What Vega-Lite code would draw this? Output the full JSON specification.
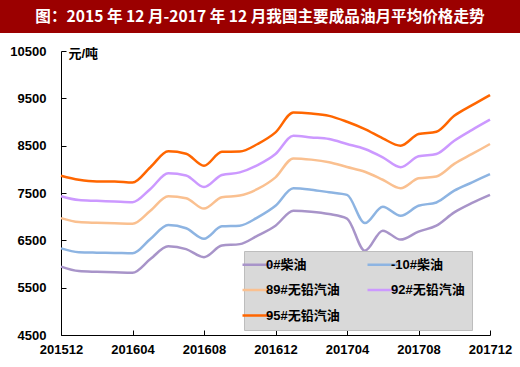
{
  "$schema": "https://vega.github.io/schema/vega-lite/v6.json",
  "padding": 0,
  "background": "white",
  "spacing": 12,
  "bounds": "full",
  "config": {"view": {"stroke": null}, "font": "Liberation Sans"},
  "vconcat": [
    {
      "width": 520,
      "height": 33,
      "view": {"fill": "#9b0000", "stroke": null},
      "data": {"values": [{"t": "图：2015 年 12 月-2017 年 12 月我国主要成品油月平均价格走势"}]},
      "mark": {"type": "text", "font": "Noto Sans CJK SC", "fontWeight": "bold", "fontSize": 15.6, "color": "white"},
      "encoding": {"text": {"field": "t"}}
    },
    {
      "spacing": 0,
      "bounds": "full",
      "hconcat": [
        {
          "width": 1,
          "height": 284,
          "data": {"values": []},
          "mark": "point"
        },
        {
          "width": 429,
          "height": 284,
          "data": {"values": [
            {"month":"201512","series":"0#柴油","price":5945},
            {"month":"201601","series":"0#柴油","price":5850},
            {"month":"201602","series":"0#柴油","price":5835},
            {"month":"201603","series":"0#柴油","price":5825},
            {"month":"201604","series":"0#柴油","price":5815},
            {"month":"201605","series":"0#柴油","price":6105},
            {"month":"201606","series":"0#柴油","price":6375},
            {"month":"201607","series":"0#柴油","price":6315},
            {"month":"201608","series":"0#柴油","price":6145},
            {"month":"201609","series":"0#柴油","price":6390},
            {"month":"201610","series":"0#柴油","price":6420},
            {"month":"201611","series":"0#柴油","price":6600},
            {"month":"201612","series":"0#柴油","price":6810},
            {"month":"201701","series":"0#柴油","price":7125},
            {"month":"201702","series":"0#柴油","price":7105},
            {"month":"201703","series":"0#柴油","price":7055},
            {"month":"201704","series":"0#柴油","price":6960},
            {"month":"201705","series":"0#柴油","price":6280},
            {"month":"201706","series":"0#柴油","price":6705},
            {"month":"201707","series":"0#柴油","price":6515},
            {"month":"201708","series":"0#柴油","price":6685},
            {"month":"201709","series":"0#柴油","price":6810},
            {"month":"201710","series":"0#柴油","price":7090},
            {"month":"201711","series":"0#柴油","price":7290},
            {"month":"201712","series":"0#柴油","price":7460},
            {"month":"201512","series":"-10#柴油","price":6330},
            {"month":"201601","series":"-10#柴油","price":6250},
            {"month":"201602","series":"-10#柴油","price":6240},
            {"month":"201603","series":"-10#柴油","price":6235},
            {"month":"201604","series":"-10#柴油","price":6225},
            {"month":"201605","series":"-10#柴油","price":6530},
            {"month":"201606","series":"-10#柴油","price":6825},
            {"month":"201607","series":"-10#柴油","price":6755},
            {"month":"201608","series":"-10#柴油","price":6535},
            {"month":"201609","series":"-10#柴油","price":6795},
            {"month":"201610","series":"-10#柴油","price":6810},
            {"month":"201611","series":"-10#柴油","price":6985},
            {"month":"201612","series":"-10#柴油","price":7230},
            {"month":"201701","series":"-10#柴油","price":7600},
            {"month":"201702","series":"-10#柴油","price":7570},
            {"month":"201703","series":"-10#柴油","price":7515},
            {"month":"201704","series":"-10#柴油","price":7460},
            {"month":"201705","series":"-10#柴油","price":6865},
            {"month":"201706","series":"-10#柴油","price":7210},
            {"month":"201707","series":"-10#柴油","price":7020},
            {"month":"201708","series":"-10#柴油","price":7230},
            {"month":"201709","series":"-10#柴油","price":7300},
            {"month":"201710","series":"-10#柴油","price":7550},
            {"month":"201711","series":"-10#柴油","price":7725},
            {"month":"201712","series":"-10#柴油","price":7900},
            {"month":"201512","series":"89#无铅汽油","price":6970},
            {"month":"201601","series":"89#无铅汽油","price":6885},
            {"month":"201602","series":"89#无铅汽油","price":6870},
            {"month":"201603","series":"89#无铅汽油","price":6860},
            {"month":"201604","series":"89#无铅汽油","price":6850},
            {"month":"201605","series":"89#无铅汽油","price":7125},
            {"month":"201606","series":"89#无铅汽油","price":7430},
            {"month":"201607","series":"89#无铅汽油","price":7390},
            {"month":"201608","series":"89#无铅汽油","price":7170},
            {"month":"201609","series":"89#无铅汽油","price":7410},
            {"month":"201610","series":"89#无铅汽油","price":7445},
            {"month":"201611","series":"89#无铅汽油","price":7585},
            {"month":"201612","series":"89#无铅汽油","price":7830},
            {"month":"201701","series":"89#无铅汽油","price":8230},
            {"month":"201702","series":"89#无铅汽油","price":8205},
            {"month":"201703","series":"89#无铅汽油","price":8150},
            {"month":"201704","series":"89#无铅汽油","price":8050},
            {"month":"201705","series":"89#无铅汽油","price":7950},
            {"month":"201706","series":"89#无铅汽油","price":7780},
            {"month":"201707","series":"89#无铅汽油","price":7600},
            {"month":"201708","series":"89#无铅汽油","price":7810},
            {"month":"201709","series":"89#无铅汽油","price":7850},
            {"month":"201710","series":"89#无铅汽油","price":8115},
            {"month":"201711","series":"89#无铅汽油","price":8325},
            {"month":"201712","series":"89#无铅汽油","price":8535},
            {"month":"201512","series":"92#无铅汽油","price":7430},
            {"month":"201601","series":"92#无铅汽油","price":7350},
            {"month":"201602","series":"92#无铅汽油","price":7335},
            {"month":"201603","series":"92#无铅汽油","price":7320},
            {"month":"201604","series":"92#无铅汽油","price":7305},
            {"month":"201605","series":"92#无铅汽油","price":7585},
            {"month":"201606","series":"92#无铅汽油","price":7915},
            {"month":"201607","series":"92#无铅汽油","price":7870},
            {"month":"201608","series":"92#无铅汽油","price":7625},
            {"month":"201609","series":"92#无铅汽油","price":7880},
            {"month":"201610","series":"92#无铅汽油","price":7935},
            {"month":"201611","series":"92#无铅汽油","price":8090},
            {"month":"201612","series":"92#无铅汽油","price":8325},
            {"month":"201701","series":"92#无铅汽油","price":8710},
            {"month":"201702","series":"92#无铅汽油","price":8675},
            {"month":"201703","series":"92#无铅汽油","price":8640},
            {"month":"201704","series":"92#无铅汽油","price":8535},
            {"month":"201705","series":"92#无铅汽油","price":8430},
            {"month":"201706","series":"92#无铅汽油","price":8255},
            {"month":"201707","series":"92#无铅汽油","price":8045},
            {"month":"201708","series":"92#无铅汽油","price":8275},
            {"month":"201709","series":"92#无铅汽油","price":8325},
            {"month":"201710","series":"92#无铅汽油","price":8605},
            {"month":"201711","series":"92#无铅汽油","price":8835},
            {"month":"201712","series":"92#无铅汽油","price":9050},
            {"month":"201512","series":"95#无铅汽油","price":7865},
            {"month":"201601","series":"95#无铅汽油","price":7780},
            {"month":"201602","series":"95#无铅汽油","price":7745},
            {"month":"201603","series":"95#无铅汽油","price":7745},
            {"month":"201604","series":"95#无铅汽油","price":7720},
            {"month":"201605","series":"95#无铅汽油","price":8045},
            {"month":"201606","series":"95#无铅汽油","price":8380},
            {"month":"201607","series":"95#无铅汽油","price":8330},
            {"month":"201608","series":"95#无铅汽油","price":8075},
            {"month":"201609","series":"95#无铅汽油","price":8370},
            {"month":"201610","series":"95#无铅汽油","price":8375},
            {"month":"201611","series":"95#无铅汽油","price":8535},
            {"month":"201612","series":"95#无铅汽油","price":8780},
            {"month":"201701","series":"95#无铅汽油","price":9200},
            {"month":"201702","series":"95#无铅汽油","price":9180},
            {"month":"201703","series":"95#无铅汽油","price":9130},
            {"month":"201704","series":"95#无铅汽油","price":9005},
            {"month":"201705","series":"95#无铅汽油","price":8850},
            {"month":"201706","series":"95#无铅汽油","price":8655},
            {"month":"201707","series":"95#无铅汽油","price":8500},
            {"month":"201708","series":"95#无铅汽油","price":8745},
            {"month":"201709","series":"95#无铅汽油","price":8795},
            {"month":"201710","series":"95#无铅汽油","price":9130},
            {"month":"201711","series":"95#无铅汽油","price":9355},
            {"month":"201712","series":"95#无铅汽油","price":9570}
          ]},
          "mark": {"type": "line", "interpolate": "monotone", "strokeWidth": 2.5},
          "encoding": {
            "x": {
              "field": "month", "type": "ordinal",
              "scale": {"type": "point", "padding": 0},
              "axis": {
                "values": ["201512","201604","201608","201612","201704","201708","201712"],
                "title": null, "labelAngle": 0, "grid": false,
                "domainColor": "#000000", "tickColor": "#000000", "tickSize": -5,
                "labelPadding": 13, "labelFont": "Liberation Sans", "labelFontWeight": "bold",
                "labelFontSize": 13, "labelColor": "#000000"
              }
            },
            "y": {
              "field": "price", "type": "quantitative",
              "scale": {"domain": [4500, 10500], "nice": false, "zero": false},
              "axis": {
                "values": [4500, 5500, 6500, 7500, 8500, 9500, 10500], "format": "d",
                "title": "元/吨", "titleAngle": 0, "titleX": 7, "titleY": 2,
                "titleAlign": "left", "titleBaseline": "middle",
                "titleFont": "Liberation Sans, Noto Sans CJK SC", "titleFontSize": 13,
                "titleFontWeight": "bold", "titleColor": "#000000",
                "grid": false, "domainColor": "#000000", "tickColor": "#000000", "tickSize": -5,
                "labelPadding": 20, "minExtent": 60,
                "labelFont": "Liberation Sans", "labelFontWeight": "bold",
                "labelFontSize": 13, "labelColor": "#000000"
              }
            },
            "color": {
              "field": "series", "type": "nominal",
              "scale": {
                "domain": ["0#柴油", "89#无铅汽油", "95#无铅汽油", "-10#柴油", "92#无铅汽油"],
                "range": ["#a894c9", "#fac090", "#ff6600", "#8db4e2", "#cc99ff"]
              },
              "legend": {
                "orient": "none", "legendX": 244, "legendY": 251, "columns": 2,
                "title": null, "symbolType": "M-3,0H3", "symbolSize": 100, "symbolStrokeWidth": 2.5,
                "labelFont": "Liberation Sans, Noto Sans CJK SC", "labelFontSize": 13,
                "labelFontWeight": "bold", "labelColor": "#000000",
                "fillColor": "#d9d9d9", "strokeColor": "#bdbdbd",
                "padding": 7, "rowPadding": 11.5, "columnPadding": 22, "labelOffset": 2, "labelLimit": 200
              }
            }
          }
        }
      ]
    }
  ]
}
